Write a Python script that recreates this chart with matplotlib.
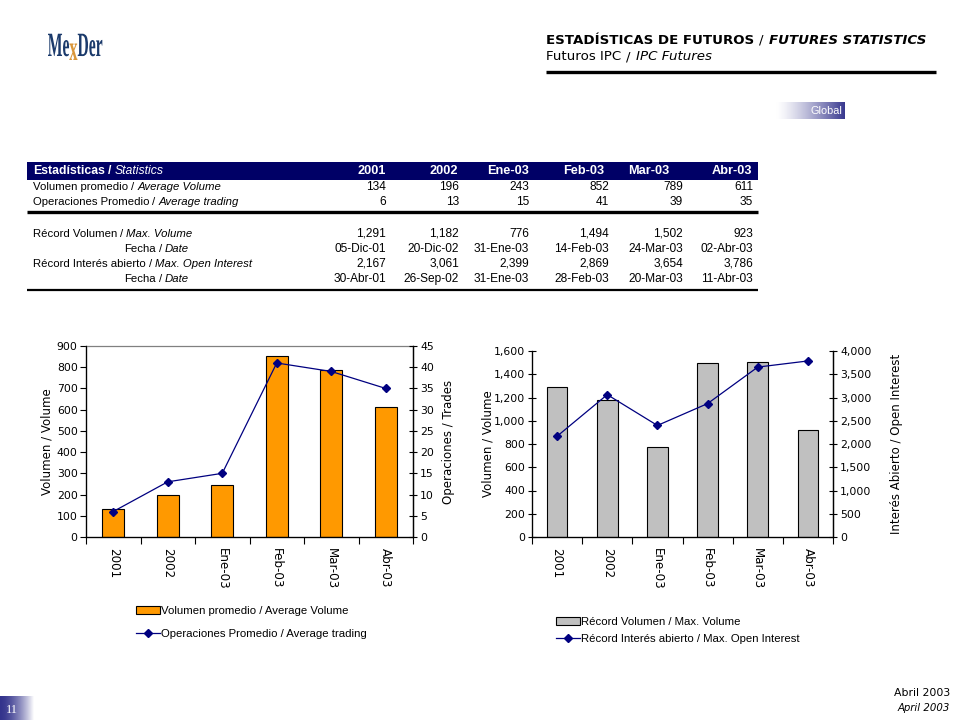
import matplotlib
matplotlib.use('Agg')
import matplotlib.pyplot as plt
import numpy as np
from matplotlib.patches import Rectangle, PathPatch, Patch
from matplotlib.lines import Line2D
from matplotlib.textpath import TextPath
from matplotlib.font_manager import FontProperties
from matplotlib.transforms import Affine2D
from matplotlib.ticker import FuncFormatter, MultipleLocator

# ---------------- data ----------------
categories = ['2001', '2002', 'Ene-03', 'Feb-03', 'Mar-03', 'Abr-03']
avg_volume = [134, 196, 243, 852, 789, 611]
avg_trading = [6, 13, 15, 41, 39, 35]
max_volume = [1291, 1182, 776, 1494, 1502, 923]
max_volume_dates = ['05-Dic-01', '20-Dic-02', '31-Ene-03', '14-Feb-03', '24-Mar-03', '02-Abr-03']
max_oi = [2167, 3061, 2399, 2869, 3654, 3786]
max_oi_dates = ['30-Abr-01', '26-Sep-02', '31-Ene-03', '28-Feb-03', '20-Mar-03', '11-Abr-03']

row_labels = [
    ('Volumen promedio', 'Average Volume'),
    ('Operaciones Promedio', 'Average trading'),
    ('Récord Volumen', 'Max. Volume'),
    ('Fecha', 'Date'),
    ('Récord Interés abierto', 'Max. Open Interest'),
    ('Fecha', 'Date'),
]

W, H = 960, 720
fig = plt.figure(figsize=(9.6, 7.2), dpi=100)
fig.patch.set_facecolor('white')

NAVY = '#000080'
HDR = '#000066'
TFONT = 'Liberation Sans'
CFONT = 'DejaVu Sans'


def rect(x0, y0, x1, y1):
    return [x0 / W, 1 - y1 / H, (x1 - x0) / W, (y1 - y0) / H]


ov = fig.add_axes([0, 0, 1, 1], zorder=0)
ov.set_xlim(0, W)
ov.set_ylim(H, 0)
ov.axis('off')
renderer = fig.canvas.get_renderer()


def pieces(x, y, parts, size=8, family=TFONT, color='black', gap=3.0):
    for i, (s, style, weight) in enumerate(parts):
        t = ov.text(x, y, s, va='center', ha='left', fontsize=size, family=family,
                    fontstyle=style, fontweight=weight, color=color)
        bb = t.get_window_extent(renderer)
        x = bb.x1 + gap
    return x


def fmt(v):
    return f'{v:,}'

# ---------------- logo ----------------
lp = FontProperties(family='Liberation Serif', weight='bold')
xpos = 48
for s, c in [('Me', '#1B3A6B'), ('x', '#D9963A'), ('Der', '#1B3A6B')]:
    tp = TextPath((0, 0), s, size=34 if s != 'x' else 36, prop=lp)
    ext = tp.get_extents()
    tr = Affine2D().translate(-ext.x0, 0).scale(0.46, -1.0).translate(xpos, 56 if s != 'x' else 60)
    ov.add_patch(PathPatch(tr.transform_path(tp), facecolor=c, edgecolor='none'))
    xpos += ext.width * 0.46 + 0.3

# ---------------- title ----------------
pieces(546, 40, [('ESTADÍSTICAS DE FUTUROS', 'normal', 'bold'),
                 ('/', 'normal', 'normal'),
                 ('FUTURES STATISTICS', 'italic', 'bold')], size=9.6, family=CFONT, gap=5)
pieces(546, 57, [('Futuros IPC', 'normal', 'normal'), ('/', 'normal', 'normal'),
                 ('IPC Futures', 'italic', 'normal')], size=9.6, family=CFONT, gap=5)
ov.plot([546, 936], [72, 72], color='black', lw=2.4, solid_capstyle='butt')

# Global box
grad = np.linspace(0, 1, 256)
cols = np.zeros((1, 256, 3))
start = np.array([1.0, 1.0, 1.0])
end = np.array([0.22, 0.22, 0.56])
g2 = np.clip((grad - 0.05) / 0.95, 0, 1) ** 1.3
cols[0] = start[None, :] * (1 - g2[:, None]) + end[None, :] * g2[:, None]
ov.imshow(cols, extent=(773, 845, 119, 102), aspect='auto', interpolation='bilinear', zorder=1)
ov.text(842, 110.5, 'Global', ha='right', va='center', fontsize=7.8, family=TFONT, color='white', zorder=2)

# page number box
cols2 = np.zeros((1, 256, 3))
g3 = np.clip(grad / 1.0, 0, 1) ** 1.6
s2 = np.array([0.2, 0.2, 0.55])
cols2[0] = s2[None, :] * (1 - g3[:, None]) + start[None, :] * g3[:, None]
ov.imshow(cols2, extent=(0, 34, 720, 696), aspect='auto', interpolation='bilinear', zorder=1)
ov.text(12, 710, '11', ha='center', va='center', fontsize=9, family='Liberation Serif',
        color='white', zorder=2)

ov.text(950, 693, 'Abril 2003', ha='right', va='center', fontsize=7.8, family=CFONT)
ov.text(950, 708, 'April 2003', ha='right', va='center', fontsize=7.3, family=CFONT, fontstyle='italic')

# ---------------- table ----------------
ov.add_patch(Rectangle((27, 162), 731, 18, facecolor=HDR, edgecolor='none', zorder=1))
pieces(33, 171.5, [('Estadísticas', 'normal', 'bold'), ('/', 'normal', 'bold'),
                   ('Statistics', 'italic', 'normal')], size=8.8, color='white', gap=3)
hdr_right = [386, 458, 529, 604, 669, 752]
val_right = [386, 459, 529, 609, 683, 753]
for c, xr in zip(categories, hdr_right):
    ov.text(xr, 171.5, c, ha='right', va='center', fontsize=9.2, family=TFONT,
            fontweight='bold', color='white', zorder=2)

row_y = [187, 202, 234, 249, 264, 279]
row_x = [33, 33, 33, 124, 33, 124]
row_vals = [
    [str(v) for v in avg_volume],
    [str(v) for v in avg_trading],
    [fmt(v) for v in max_volume],
    max_volume_dates,
    [fmt(v) for v in max_oi],
    max_oi_dates,
]
for (es, en), y, x0, vals in zip(row_labels, row_y, row_x, row_vals):
    pieces(x0, y, [(es, 'normal', 'normal'), ('/', 'normal', 'normal'), (en, 'italic', 'normal')],
           size=8.2, gap=3)
    for v, xr in zip(vals, val_right):
        ov.text(xr, y, v, ha='right', va='center', fontsize=8.6, family=TFONT)

ov.plot([27, 758], [212, 212], color='black', lw=2.4, solid_capstyle='butt')
ov.plot([27, 758], [290, 290], color='black', lw=1.6, solid_capstyle='butt')

ov.set_xlim(0, W)
ov.set_ylim(H, 0)

# ---------------- charts ----------------
x = np.arange(len(categories))


def style_x(ax):
    ax.set_xlim(-0.5, len(categories) - 0.5)
    ax.set_xticks(x)
    ax.set_xticklabels(categories, rotation=-90, fontsize=8.6, family=CFONT)
    ax.tick_params(axis='x', which='major', length=0, pad=8)
    ax.set_xticks(np.arange(-0.5, len(categories), 1.0), minor=True)
    ax.tick_params(axis='x', which='minor', length=5, direction='out', width=0.8)


# Chart 1
ax1 = fig.add_axes(rect(86, 346, 413, 537), zorder=2)
ax1.bar(x, avg_volume, width=0.4, color='#FF9900', edgecolor='black', linewidth=0.8, zorder=2)
style_x(ax1)
ax1.set_ylim(0, 900)
ax1.yaxis.set_major_locator(MultipleLocator(100))
ax1.tick_params(axis='y', labelsize=7.8, length=4, direction='out', width=0.8, pad=2)
for lab in ax1.get_yticklabels():
    lab.set_family(CFONT)
ax1.spines['top'].set_color('#808080')
for sp in ['left', 'bottom', 'right']:
    ax1.spines[sp].set_color('black')
    ax1.spines[sp].set_linewidth(0.9)
ax1.spines['top'].set_linewidth(0.9)

ax1b = ax1.twinx()
ax1b.plot(x, avg_trading, color=NAVY, marker='D', markersize=4.5, lw=0.9, zorder=3)
ax1b.set_ylim(0, 45)
ax1b.yaxis.set_major_locator(MultipleLocator(5))
ax1b.tick_params(axis='y', labelsize=7.8, length=6, direction='inout', width=0.8, pad=2)
ax1b.spines['top'].set_visible(False)
ax1b.spines['right'].set_linewidth(0.9)
ax1.text(-0.118, 0.5, 'Volumen / Volume', transform=ax1.transAxes, rotation=90,
         ha='center', va='center', fontsize=8.5, family=CFONT)
ax1.text(1.11, 0.5, 'Operaciones / Trades', transform=ax1.transAxes, rotation=90,
         ha='center', va='center', fontsize=8.5, family=CFONT)

# Chart 2
ax2 = fig.add_axes(rect(532, 351, 833, 537), zorder=2)
ax2.bar(x, max_volume, width=0.41, color='#C0C0C0', edgecolor='black', linewidth=0.8, zorder=2)
style_x(ax2)
ax2.set_ylim(0, 1600)
ax2.yaxis.set_major_locator(MultipleLocator(200))
ax2.yaxis.set_major_formatter(FuncFormatter(lambda v, p: f'{int(v):,}'))
ax2.tick_params(axis='y', labelsize=7.8, length=6, direction='inout', width=0.8, pad=2)
ax2.spines['top'].set_visible(False)
for sp in ['left', 'bottom', 'right']:
    ax2.spines[sp].set_linewidth(0.9)

ax2b = ax2.twinx()
ax2b.plot(x, max_oi, color=NAVY, marker='D', markersize=4.5, lw=0.9, zorder=3)
ax2b.set_ylim(0, 4000)
ax2b.yaxis.set_major_locator(MultipleLocator(500))
ax2b.yaxis.set_major_formatter(FuncFormatter(lambda v, p: f'{int(v):,}'))
ax2b.tick_params(axis='y', labelsize=7.8, length=6, direction='inout', width=0.8, pad=2)
ax2b.spines['top'].set_visible(False)
ax2b.spines['right'].set_linewidth(0.9)
ax2.text(-0.145, 0.5, 'Volumen / Volume', transform=ax2.transAxes, rotation=90,
         ha='center', va='center', fontsize=8.5, family=CFONT)
ax2.text(1.21, 0.5, 'Interés Abierto / Open Interest', transform=ax2.transAxes, rotation=90,
         ha='center', va='center', fontsize=8.5, family=CFONT)

# legends
lprop = FontProperties(family=TFONT, size=8.2)
h1 = [Patch(facecolor='#FF9900', edgecolor='black', linewidth=0.8,
            label='Volumen promedio / Average Volume'),
      Line2D([], [], color=NAVY, marker='D', markersize=4.5, lw=0.9,
             label='Operaciones Promedio / Average trading')]
fig.legend(handles=h1, loc='upper left', bbox_to_anchor=(136 / W, 1 - 606 / H), frameon=False,
           prop=lprop, handlelength=2.1, handletextpad=0.1, labelspacing=1.15, borderpad=0,
           borderaxespad=0)
h2 = [Patch(facecolor='#C0C0C0', edgecolor='black', linewidth=0.8,
            label='Récord Volumen / Max. Volume'),
      Line2D([], [], color=NAVY, marker='D', markersize=4.5, lw=0.9,
             label='Récord Interés abierto / Max. Open Interest')]
fig.legend(handles=h2, loc='upper left', bbox_to_anchor=(556 / W, 1 - 617 / H), frameon=False,
           prop=lprop, handlelength=2.1, handletextpad=0.1, labelspacing=0.65, borderpad=0,
           borderaxespad=0)

fig.savefig('out.png', dpi=100, facecolor='white')
